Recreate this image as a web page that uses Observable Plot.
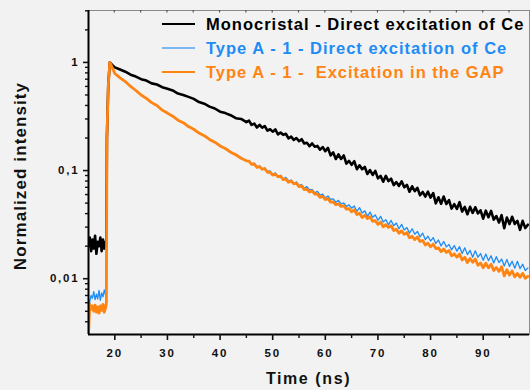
<!DOCTYPE html>
<html><head><meta charset="utf-8">
<script src="https://cdn.jsdelivr.net/npm/d3@7"></script>
<script src="https://cdn.jsdelivr.net/npm/@observablehq/plot@0.6"></script>
<style>
html,body{margin:0;padding:0;background:#f2f2f2;}
#chart svg{display:block;}
</style></head><body><div id="chart"></div>
<script>
// Time (ns)
const time = [15,15.25,15.5,15.75,16,16.25,16.5,16.75,17,17.25,17.5,17.75,18,18.25,
18.4,18.5,18.75,19.05,19.5,20,
21,22,23,24,25,26,27,28,29,30,31,32,33,34,35,36,37,38,39,40,41,42,43,44,45,
45.5,46,46.5,47,47.5,48,48.5,49,49.5,50,
50.5,51,51.5,52,52.5,53,53.5,54,54.5,55,
55.5,56,56.5,57,57.5,58,58.5,59,59.5,60,
60.5,61,61.5,62,62.5,63,63.5,64,64.5,65,
65.5,66,66.5,67,67.5,68,68.5,69,69.5,70,
70.5,71,71.5,72,72.5,73,73.5,74,74.5,75,
75.5,76,76.5,77,77.5,78,78.5,79,79.5,80,
80.5,81,81.5,82,82.5,83,83.5,84,84.5,85,
85.5,86,86.5,87,87.5,88,88.5,89,89.5,90,
90.5,91,91.5,92,92.5,93,93.5,94,94.5,95,
95.5,96,96.5,97,97.5,98,98.5];

// Monocristal - Direct excitation of Ce
const monocristal = [0.020,0.024,0.018,0.023,0.019,0.025,0.017,0.022,0.020,0.024,0.018,0.023,0.019,0.022,
0.022,0.20,0.60,1.0,0.95,0.90,
0.86,0.82,0.77,0.74,0.70,0.68,0.64,0.625,0.59,0.57,0.55,0.515,0.50,0.48,0.46,0.43,0.415,0.39,0.375,0.35,0.34,0.325,0.305,0.30,0.28,
0.290,0.264,0.272,0.250,0.265,0.249,0.258,0.234,0.241,0.229,
0.240,0.216,0.225,0.214,0.219,0.198,0.206,0.192,0.200,0.187,
0.195,0.178,0.181,0.168,0.178,0.166,0.169,0.156,0.165,0.151,
0.162,0.138,0.147,0.128,0.141,0.128,0.138,0.116,0.123,0.113,
0.122,0.103,0.112,0.103,0.108,0.0930,0.101,0.0910,0.0993,0.0847,
0.0893,0.0789,0.0893,0.0798,0.0841,0.0735,0.0782,0.0721,0.0796,0.0700,
0.0738,0.0638,0.0716,0.0646,0.0692,0.0592,0.0634,0.0575,0.0638,0.0562,
0.0618,0.0498,0.0566,0.0494,0.0575,0.0491,0.0533,0.0445,0.0489,0.0442,
0.0511,0.0418,0.0461,0.0395,0.0462,0.0406,0.0458,0.0402,0.0429,0.0359,
0.0426,0.0370,0.0424,0.0352,0.0380,0.0331,0.0387,0.0293,0.0368,0.0320,
0.0374,0.0321,0.0342,0.0283,0.0343,0.0294,0.0316];

// Type A - 1 - Direct excitation of Ce
const typeADirect = [0.0042,0.0062,0.0070,0.0066,0.0076,0.0064,0.0072,0.0065,0.0078,0.0063,0.0074,0.0068,0.0079,0.0070,
0.02,0.3,0.65,1.0,0.90,0.79,
0.72,0.66,0.605,0.55,0.50,0.462,0.428,0.398,0.365,0.338,0.32,0.294,0.275,0.257,0.24,0.224,0.208,0.196,0.182,0.171,0.159,0.149,0.139,0.131,0.123,
0.123,0.114,0.117,0.109,0.110,0.102,0.106,0.0982,0.0991,0.0923,
0.0953,0.0883,0.0902,0.0834,0.0865,0.0805,0.0818,0.0760,0.0785,0.0731,
0.0743,0.0685,0.0711,0.0664,0.0668,0.0622,0.0643,0.0594,0.0607,0.0560,
0.0582,0.0542,0.0548,0.0509,0.0530,0.0491,0.0502,0.0466,0.0482,0.0449,
0.0471,0.0419,0.0454,0.0405,0.0424,0.0377,0.0413,0.0370,0.0389,0.0347,
0.0377,0.0335,0.0352,0.0315,0.0346,0.0309,0.0327,0.0290,0.0318,0.0282,
0.0297,0.0264,0.0290,0.0258,0.0274,0.0244,0.0264,0.0230,0.0247,0.0223,
0.0240,0.0212,0.0228,0.0201,0.0221,0.0197,0.0207,0.0185,0.0203,0.0180,
0.0198,0.0171,0.0193,0.0167,0.0183,0.0158,0.0181,0.0158,0.0171,0.0148,
0.0169,0.0147,0.0163,0.0140,0.0160,0.0141,0.0152,0.0131,0.0151,0.0130,
0.0145,0.0125,0.0145,0.0124,0.0136,0.0119,0.0126];

// Type A - 1 - Excitation in the GAP
const typeAGap = [0.0031,0.0058,0.0052,0.0056,0.0050,0.0057,0.0049,0.0055,0.0048,0.0056,0.0051,0.0058,0.0049,0.0054,
0.006,0.2,0.6,1.0,0.90,0.79,
0.72,0.665,0.60,0.55,0.50,0.465,0.425,0.40,0.362,0.34,0.318,0.292,0.277,0.255,0.241,0.222,0.21,0.194,0.183,0.169,0.160,0.148,0.140,0.130,0.123,
0.122,0.114,0.115,0.107,0.109,0.103,0.104,0.0964,0.0968,0.0908,
0.0927,0.0875,0.0889,0.0824,0.0834,0.0780,0.0800,0.0755,0.0764,0.0711,
0.0721,0.0667,0.0673,0.0634,0.0649,0.0605,0.0608,0.0565,0.0578,0.0540,
0.0551,0.0511,0.0514,0.0483,0.0493,0.0466,0.0473,0.0439,0.0444,0.0415,
0.0434,0.0392,0.0403,0.0368,0.0386,0.0360,0.0374,0.0339,0.0344,0.0318,
0.0335,0.0302,0.0316,0.0298,0.0309,0.0279,0.0287,0.0263,0.0277,0.0257,
0.0267,0.0239,0.0247,0.0230,0.0243,0.0221,0.0226,0.0205,0.0213,0.0197,
0.0209,0.0190,0.0193,0.0178,0.0188,0.0175,0.0182,0.0163,0.0170,0.0158,
0.0169,0.0149,0.0158,0.0141,0.0154,0.0142,0.0152,0.0133,0.0140,0.0126,
0.0139,0.0126,0.0136,0.0119,0.0127,0.0117,0.0129,0.0106,0.0121,0.0108,
0.0118,0.0104,0.0112,0.0103,0.0112,0.0101,0.0105];

const seriesNames = ["Monocristal - Direct excitation of Ce", "Type A - 1 - Direct excitation of Ce", "Type A - 1 -  Excitation in the GAP"];
const seriesColors = ["#000000", "#1f8cf5", "#ff8412"];
const legendLineColors = ["#000000", "#7ab6f2", "#ff8412"];

const xMajor = [20,30,40,50,60,70,80,90];
const xMinor = [25,35,45,55,65,75,85,95];
const xTop = [20,25,30,35,40,45,50,55,60,65,70,75,80,85,90,95];
const yMajor = [0.01,0.1,1];
const yMajorLabels = ["0,01","0,1","1"];
const yMinor = [0.004,0.005,0.006,0.007,0.008,0.009,0.02,0.03,0.04,0.05,0.06,0.07,0.08,0.09,0.2,0.3,0.4,0.5,0.6,0.7,0.8,0.9,2,3];
const xDomain = [15, 98.8];
const yDomain = [0.00305, 3.02];

const rows = time.map((t, i) => ({t, mono: monocristal[i], direct: typeADirect[i], gap: typeAGap[i]}));

const chart = Plot.plot({
  width: 530, height: 390,
  marginLeft: 88, marginRight: 1, marginTop: 10, marginBottom: 56,
  style: {background: "#f2f2f2", fontFamily: "'Liberation Sans', Arial, sans-serif", fontWeight: "bold", fontSize: "11.5px", color: "#111", letterSpacing: "1.8px"},
  x: {domain: xDomain},
  y: {type: "log", domain: yDomain},
  marks: [
    Plot.frame({stroke: "#8a8a8a", strokeWidth: 1}),
    Plot.line(rows, {x: "t", y: "direct", stroke: seriesColors[1], strokeWidth: 1.3, clip: true}),
    Plot.line(rows, {x: "t", y: "mono", stroke: seriesColors[0], strokeWidth: 2.6, clip: true}),
    Plot.line(rows, {x: "t", y: "gap", stroke: seriesColors[2], strokeWidth: 2.8, clip: true}),
    Plot.ruleX([xDomain[0]], {stroke: "#000", strokeWidth: 2}),
    Plot.ruleY([yDomain[0]], {stroke: "#000", strokeWidth: 2}),
    Plot.axisX({ticks: xMajor, tickSize: 6, tickPadding: 8, strokeWidth: 1.6, label: null, tickFormat: d => String(d)}),
    Plot.axisX({ticks: xMinor, tickSize: 4, strokeWidth: 1.4, label: null, tickFormat: () => ""}),
    Plot.axisY({ticks: yMajor, tickSize: 5, tickPadding: 4, strokeWidth: 1.6, label: null, tickFormat: d => yMajorLabels[yMajor.indexOf(d)]}),
    Plot.axisY({ticks: yMinor, tickSize: 3, strokeWidth: 1.4, label: null, tickFormat: () => ""})
  ]
});
document.getElementById("chart").appendChild(chart);

const svg = d3.select(chart);
const xs = chart.scale("x");
const [x0, x1] = xs.range;
// top inner ticks
svg.append("g").selectAll("line").data(xTop).join("line")
  .attr("x1", d => xs.apply(d)).attr("x2", d => xs.apply(d))
  .attr("y1", 10).attr("y2", 12.5)
  .attr("stroke", "#555").attr("stroke-width", 1.2);

// axis titles
svg.append("text")
  .attr("x", (x0 + x1) / 2).attr("y", 384)
  .attr("text-anchor", "middle")
  .style("font-size", "16px").style("letter-spacing", "1.6px").style("font-weight", "bold")
  .attr("fill", "#111")
  .text("Time (ns)");
svg.append("text")
  .attr("transform", "translate(26,176) rotate(-90)")
  .attr("text-anchor", "middle")
  .style("font-size", "17px").style("letter-spacing", "1.1px").style("font-weight", "bold")
  .attr("fill", "#111")
  .text("Normalized intensity");

// legend
const lg = svg.append("g").attr("text-anchor", "start");
seriesNames.forEach((name, i) => {
  const cy = 24 + i * 24;
  lg.append("line").attr("x1", 162).attr("x2", 195).attr("y1", cy).attr("y2", cy)
    .attr("stroke", legendLineColors[i]).attr("stroke-width", 2);
  lg.append("text").attr("x", 206).attr("y", cy + 6)
    .attr("text-anchor", "start")
    .attr("fill", seriesColors[i])
    .style("font-size", "16.5px").style("letter-spacing", "1px").style("font-weight", "bold")
    .style("white-space", "pre")
    .text(name);
});
</script></body></html>
